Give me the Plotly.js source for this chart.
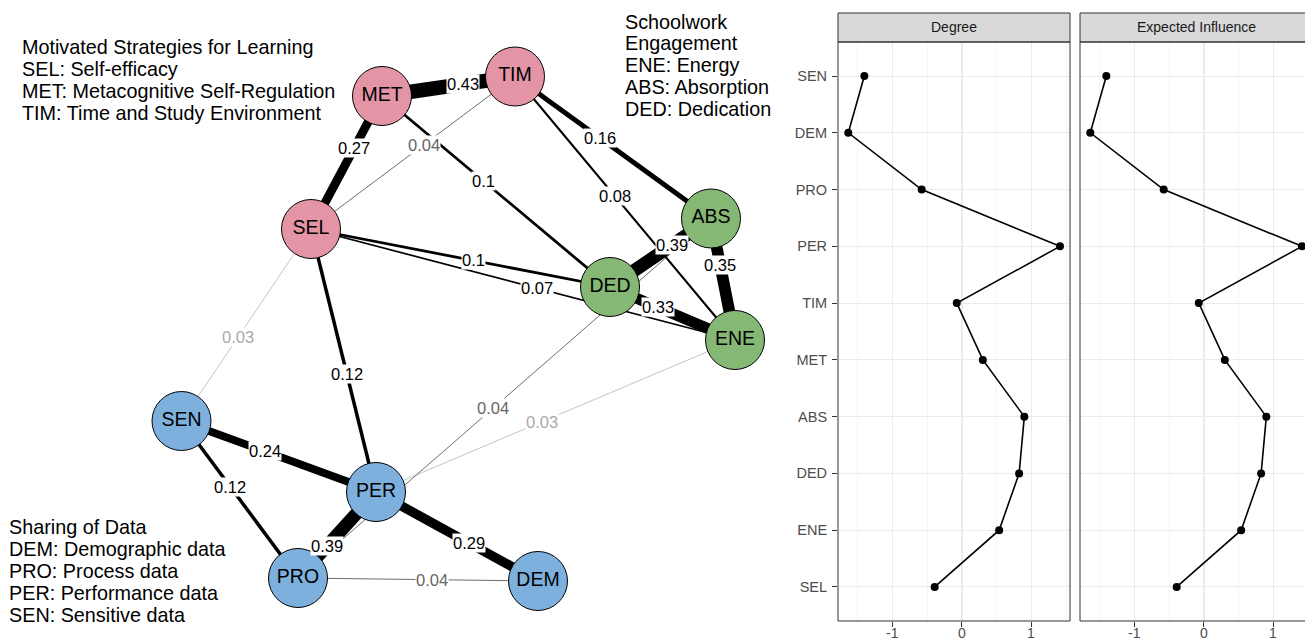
<!DOCTYPE html>
<html><head><meta charset="utf-8">
<script src="https://cdn.plot.ly/plotly-3.0.1.min.js"></script>
<style>html,body{margin:0;padding:0;background:#fff;} #chart{width:1305px;height:639px;}</style>
</head><body><div id="chart"></div>
<script>
// ---------- Network data ----------
const nodeNames = ['SEL','MET','TIM','ENE','ABS','DED','DEM','PRO','PER','SEN'];
const nodeGroup = ['msl','msl','msl','eng','eng','eng','dat','dat','dat','dat'];
const edgeFrom = ['MET','SEL','SEL','DED','TIM','TIM','SEL','SEL','DED','ABS','DED','SEN','SEL','PRO','PER','SEN','SEN','PRO','PER','PRO'];
const edgeTo   = ['TIM','MET','TIM','MET','ABS','ENE','DED','ENE','ABS','ENE','ENE','SEL','PER','ABS','ENE','PER','PRO','PER','DEM','DEM'];
const edgeWeight = [0.43,0.27,0.04,0.10,0.16,0.08,0.10,0.07,0.39,0.35,0.33,0.03,0.12,0.04,0.03,0.24,0.12,0.39,0.29,0.04];

// legend texts
const legendMSL = ['Motivated Strategies for Learning','SEL: Self-efficacy','MET: Metacognitive Self-Regulation','TIM: Time and Study Environment'];
const legendENG = ['Schoolwork','Engagement','ENE: Energy','ABS: Absorption','DED: Dedication'];
const legendDAT = ['Sharing of Data','DEM: Demographic data','PRO: Process data','PER: Performance data','SEN: Sensitive data'];

// ---------- Centrality data ----------
const centralityNodes = ['SEN','DEM','PRO','PER','TIM','MET','ABS','DED','ENE','SEL'];
const degree            = [-1.405,-1.636,-0.580,1.410,-0.075,0.300,0.897,0.822,0.535,-0.393];
const expectedInfluence = [-1.405,-1.636,-0.580,1.410,-0.075,0.300,0.897,0.822,0.535,-0.393];
const facetTitles = ['Degree','Expected Influence'];
const xTickVals = [-1,0,1];
const xTickText = ['-1','0','1'];

// ---------- Layout (node placement, label placement) ----------
const nodeLayout = {SEL:[311,229], MET:[382,96], TIM:[515,76.5], ENE:[735,340], ABS:[711,218.5],
                    DED:[610,287], DEM:[538,581], PRO:[298,578], PER:[376,492], SEN:[181.5,421]};
const labelT = [0.609,0.609,0.554,0.557,0.434,0.4545,0.542,0.533,0.614,0.383,0.384,0.4375,0.551,0.472,0.462,0.429,0.42,0.372,0.574,0.558];
const groupColor = {msl:'#E495A5', eng:'#86B875', dat:'#7DB0DD'};

const W = 1305, H = 639;
const FONT = 'Liberation Sans, Arial, Helvetica, sans-serif';

function edgeWidth(w){ const cut=0.05, mx=0.43, es=14.5; return w < cut ? 1 : 1 + (w-cut)/(mx-cut)*(es-1); }
function edgeColor(w){ return w >= 0.05 ? '#000000' : (w >= 0.04 ? '#6e6e6e' : '#c4c4c4'); }
function labelColor(w){ return w >= 0.05 ? '#000000' : (w >= 0.04 ? '#666666' : '#aaaaaa'); }

const traces = [];
const annotations = [];

// edges, drawn thin first
const order = edgeWeight.map((w,i)=>i).sort((a,b)=>edgeWeight[a]-edgeWeight[b]);
order.forEach(i=>{
  const a = nodeLayout[edgeFrom[i]], b = nodeLayout[edgeTo[i]];
  const w = edgeWeight[i];
  traces.push({type:'scatter', mode:'lines', x:[a[0],b[0]], y:[a[1],b[1]], xaxis:'x3', yaxis:'y3',
    line:{color:edgeColor(w), width:edgeWidth(w)}, hoverinfo:'skip', showlegend:false});
});
edgeWeight.forEach((w,i)=>{
  const a = nodeLayout[edgeFrom[i]], b = nodeLayout[edgeTo[i]], t = labelT[i];
  annotations.push({xref:'x3', yref:'y3', x:a[0]+t*(b[0]-a[0]), y:a[1]+t*(b[1]-a[1]), text:String(w),
    showarrow:false, bgcolor:'#ffffff', borderpad:0, font:{family:FONT, size:16.5, color:labelColor(w)}});
});
// nodes
traces.push({type:'scatter', mode:'markers+text', xaxis:'x3', yaxis:'y3',
  x:nodeNames.map(n=>nodeLayout[n][0]), y:nodeNames.map(n=>nodeLayout[n][1]), text:nodeNames,
  textposition:'middle center', textfont:{family:FONT, size:19.5, color:'#000'},
  marker:{size:59, color:nodeGroup.map(g=>groupColor[g]), line:{color:'#000', width:1}},
  hoverinfo:'skip', showlegend:false, cliponaxis:false});

// legends
function addLegend(lines, px, py0, dy){
  lines.forEach((s,k)=>annotations.push({xref:'paper', yref:'paper', x:px/W, y:1-(py0+k*dy)/H, xanchor:'left', yanchor:'middle',
    text:s, showarrow:false, borderpad:0, font:{family:FONT, size:19.8, color:'#000'}}));
}
addLegend(legendMSL, 21, 47.5, 21.9);
addLegend(legendENG, 624, 21.5, 21.9);
addLegend(legendDAT, 8, 527, 22);

// centrality traces
traces.push({type:'scatter', mode:'lines+markers', x:degree, y:centralityNodes, xaxis:'x', yaxis:'y',
  line:{color:'#000', width:1.6}, marker:{color:'#000', size:8}, showlegend:false, hoverinfo:'skip'});
traces.push({type:'scatter', mode:'lines+markers', x:expectedInfluence, y:centralityNodes, xaxis:'x2', yaxis:'y2',
  line:{color:'#000', width:1.6}, marker:{color:'#000', size:8}, showlegend:false, hoverinfo:'skip'});

// facet geometry (pixels)
const pTop = 42, pBot = 621, sTop = 13;
const panels = [[838,1070],[1080,1312]];
const catArr = centralityNodes.slice().reverse();
const shapes = [];
panels.forEach((p,k)=>{
  shapes.push({type:'rect', xref:'paper', yref:'paper', x0:p[0]/W, x1:p[1]/W, y0:1-pTop/H, y1:1-sTop/H,
    fillcolor:'#d9d9d9', line:{color:'#333333', width:1}, layer:'above'});
  shapes.push({type:'rect', xref:'paper', yref:'paper', x0:p[0]/W, x1:p[1]/W, y0:1-pBot/H, y1:1-pTop/H,
    fillcolor:'rgba(0,0,0,0)', line:{color:'#333333', width:1}, layer:'above'});
  annotations.push({xref:'paper', yref:'paper', x:(p[0]+p[1])/2/W, y:1-(sTop+pTop)/2/H, xanchor:'center', yanchor:'middle',
    text:facetTitles[k], showarrow:false, font:{family:FONT, size:14, color:'#1a1a1a'}});
  // x tick labels placed just under the panel
  xTickVals.forEach((v,j)=>annotations.push({xref:k===0?'x':'x2', yref:'paper', x:v, y:1-624/H, xanchor:'center', yanchor:'top',
    text:xTickText[j], showarrow:false, borderpad:0, font:{family:FONT, size:14, color:'#4d4d4d'}}));
});

const xr0 = -1.784, ppu = 69.5;
function xAxis(k){
  const p = panels[k];
  const right = Math.min(p[1], W);
  return {domain:[p[0]/W, right/W], range:[xr0, xr0+(right-p[0])/ppu], anchor: k===0?'y':'y2',
    tickmode:'array', tickvals:xTickVals, ticktext:xTickText, showticklabels:false, ticks:'outside', ticklen:5, tickcolor:'#333', tickwidth:1,
    showgrid:true, gridcolor:'#ebebeb', gridwidth:1.1,
    minor:{tickmode:'array', tickvals:[-1.5,-0.5,0.5,1.5], showgrid:true, gridcolor:'#f2f2f2', gridwidth:0.8, ticks:''},
    zeroline:false, showline:false, fixedrange:true, automargin:false};
}
function yAxis(k){
  return {domain:[1-pBot/H, 1-pTop/H], type:'category', categoryorder:'array', categoryarray:catArr, range:[-0.6, catArr.length-0.4],
    anchor: k===0?'x':'x2', ticks: k===0?'outside':'', ticklen:5, tickcolor:'#333', tickwidth:1, showticklabels:k===0,
    ticklabelstandoff:2, tickfont:{family:FONT, size:14.5, color:'#4d4d4d'}, showgrid:true, gridcolor:'#ebebeb', gridwidth:1.1,
    zeroline:false, showline:false, fixedrange:true, automargin:false};
}

const layout = {
  width:W, height:H, margin:{l:0,r:0,t:0,b:0}, paper_bgcolor:'#fff', plot_bgcolor:'rgba(0,0,0,0)', showlegend:false,
  xaxis:xAxis(0), yaxis:yAxis(0), xaxis2:xAxis(1), yaxis2:yAxis(1),
  xaxis3:{domain:[0,800/W], range:[0,800], visible:false, fixedrange:true},
  yaxis3:{domain:[0,1], range:[H,0], visible:false, fixedrange:true},
  shapes:shapes, annotations:annotations
};
Plotly.newPlot('chart', traces, layout, {displayModeBar:false, staticPlot:true});
</script></body></html>
